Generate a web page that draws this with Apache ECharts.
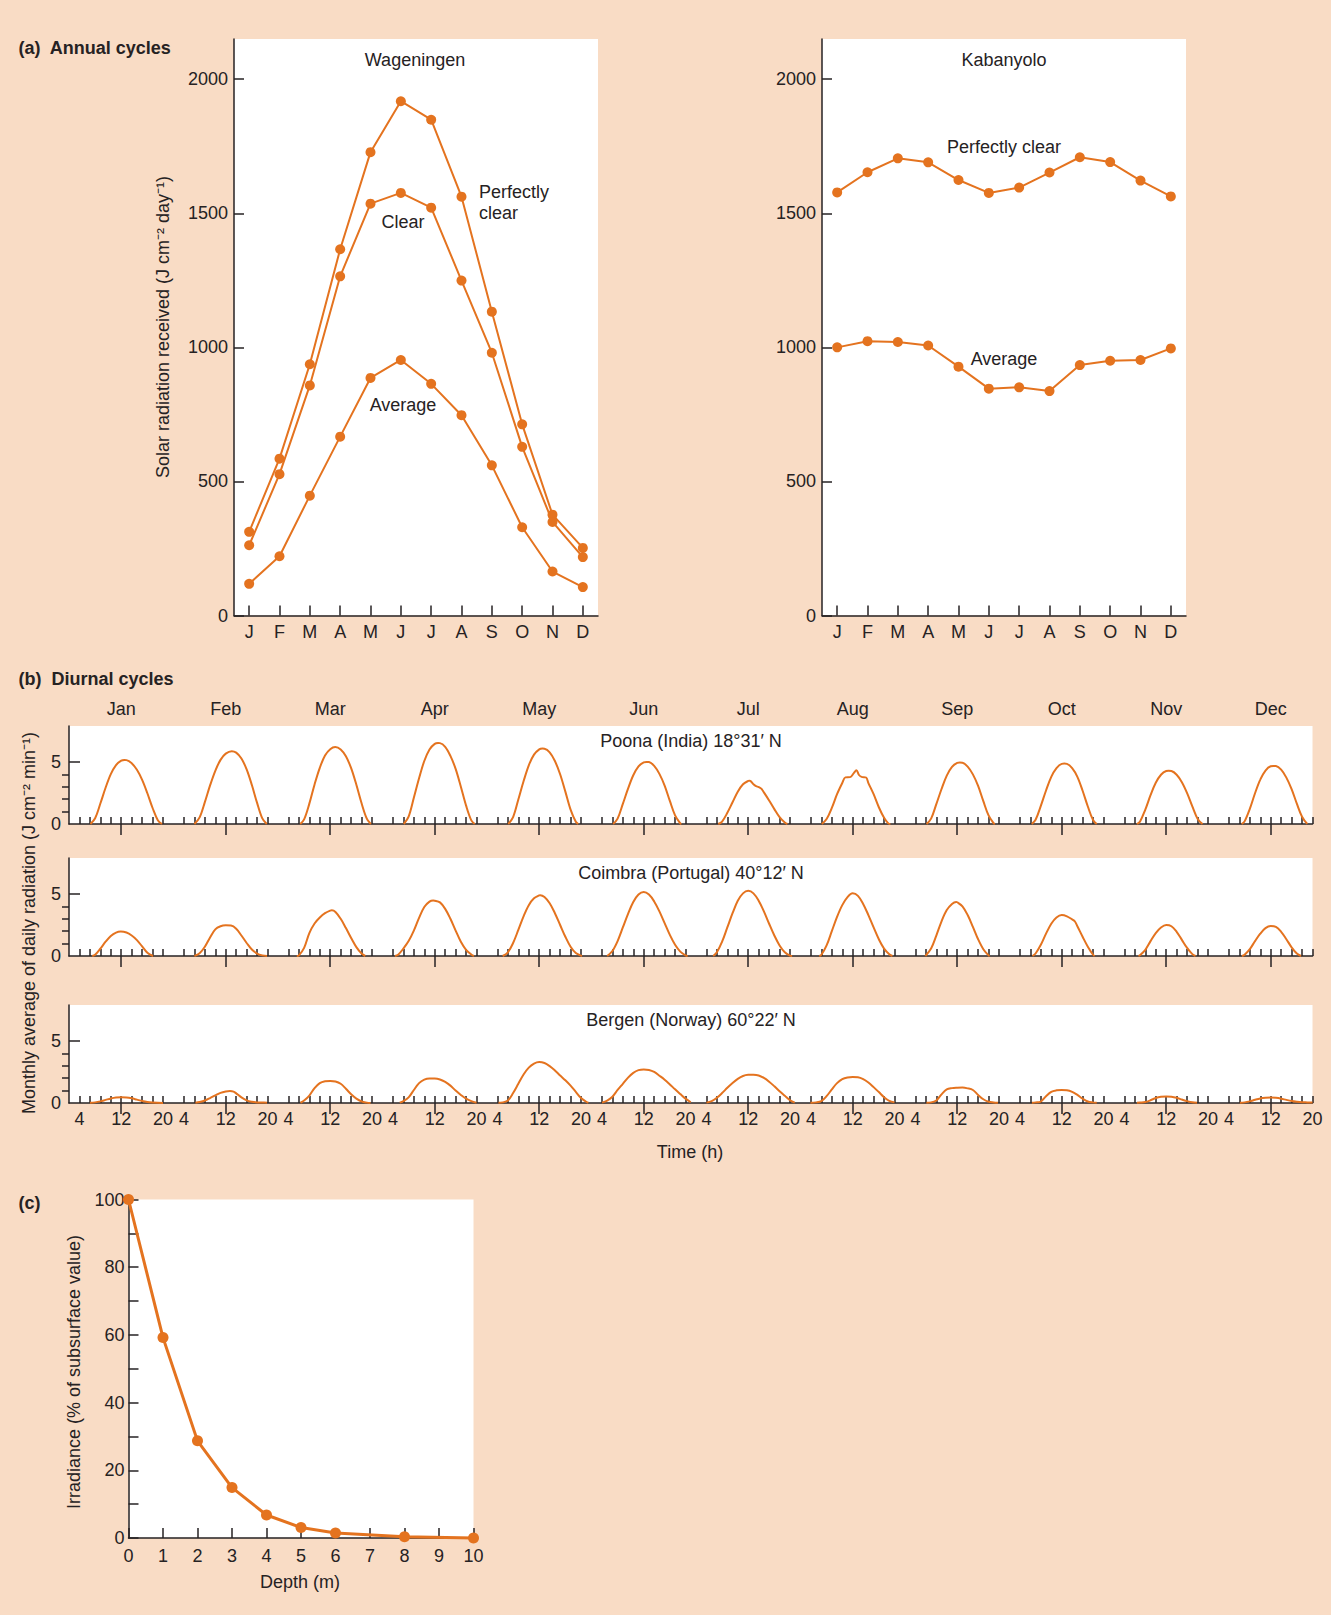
<!DOCTYPE html>
<html><head><meta charset="utf-8">
<script src="https://cdn.jsdelivr.net/npm/echarts@6.0.0/dist/echarts.min.js"></script>
<style>html,body{margin:0;padding:0;background:#F9DCC5}#c{width:1331px;height:1615px}</style>
</head><body><div id="c"></div><script>
// ---------- DATA ----------
const months = ['J','F','M','A','M','J','J','A','S','O','N','D'];
const annualYTicks = [0, 500, 1000, 1500, 2000];
const wagPerfectlyClear = [312, 585, 937, 1366, 1728, 1918, 1849, 1562, 1133, 713, 376, 252];
const wagClear          = [262, 527, 858, 1265, 1536, 1576, 1521, 1249, 980, 629, 349, 218];
const wagAverage        = [118, 221, 447, 667, 886, 953, 864, 747, 560, 329, 164, 106];
const kabPerfectlyClear = [1578, 1653, 1705, 1690, 1624, 1576, 1596, 1652, 1709, 1691, 1622, 1563];
const kabAverage        = [1000, 1023, 1020, 1007, 928, 846, 851, 837, 934, 950, 953, 996];

const monthNames = ['Jan','Feb','Mar','Apr','May','Jun','Jul','Aug','Sep','Oct','Nov','Dec'];
const hourTicks = [4, 6, 8, 10, 12, 14, 16, 18, 20];
const hourLabels = [4, 12, 20];
const diurnalYLabels = [0, 5];
const diurnalYMinor = [1, 2, 3, 4];

// [hour, J cm-2 min-1] for each month
const poona = [
  [[6.1,0],[7,0.46],[8,1.65],[9,2.92],[10,4.02],[11,4.75],[12,5.11],[12.6,5.16],[13,5.15],[14,4.9],[15,4.37],[16,3.56],[17,2.48],[18,1.29],[19,0.31],[19.8,0]],
  [[6,0],[7,0.53],[8,1.76],[9,3.11],[10,4.29],[11,5.17],[12,5.67],[13.15,5.87],[14,5.75],[15,5.28],[16,4.4],[17,3.14],[18,1.7],[19,0.45],[19.85,0]],
  [[6.26,0],[7,0.37],[8,1.64],[9,3.19],[10,4.53],[11,5.52],[12,6.03],[12.96,6.2],[14,6.01],[15,5.46],[16,4.5],[17,3.16],[18,1.67],[19,0.43],[19.8,0]],
  [[6.07,0],[7,0.6],[8,2.12],[9,3.69],[10,5.08],[11,6.01],[12,6.46],[12.64,6.53],[13,6.52],[14,6.22],[15,5.49],[16,4.44],[17,3.0],[18,1.48],[19,0.29],[19.65,0]],
  [[6.07,0],[7,0.56],[8,1.98],[9,3.44],[10,4.73],[11,5.59],[12,6.02],[12.64,6.08],[13,6.07],[14,5.78],[15,5.08],[16,4.01],[17,2.61],[18,1.16],[19,0.18],[19.46,0]],
  [[6.13,0],[7,0.43],[8,1.62],[9,2.85],[10,3.93],[11,4.65],[12,4.97],[12.5,5.0],[13,4.99],[14,4.68],[15,4.04],[16,3.1],[17,1.86],[18,0.7],[19,0.05],[19.2,0]],
  [[6.26,0],[7,0.2],[8,0.9],[9,1.75],[10,2.6],[11,3.2],[12,3.47],[12.3,3.49],[13,3.2],[13.5,3.05],[14,2.98],[14.5,2.85],[15,2.55],[16,1.9],[17,1.2],[18,0.55],[19,0.12],[19.5,0]],
  [[6.07,0],[7,0.4],[8,1.3],[9,2.4],[10,3.3],[10.6,3.76],[11.5,3.78],[12.2,4.1],[12.7,4.34],[13.2,3.95],[13.7,3.8],[14.55,3.75],[15,3.3],[16,2.4],[17,1.35],[18,0.5],[18.8,0.05],[19.2,0]],
  [[6.13,0],[7,0.43],[8,1.6],[9,2.82],[10,3.9],[11,4.6],[12,4.92],[12.5,4.95],[13,4.94],[14,4.63],[15,4.0],[16,3.07],[17,1.84],[18,0.69],[19,0.05],[19.2,0]],
  [[6.26,0],[7,0.34],[8,1.46],[9,2.7],[10,3.8],[11,4.5],[12,4.85],[12.5,4.87],[13,4.85],[14,4.5],[15,3.8],[16,2.68],[17,1.41],[18,0.32],[18.7,0]],
  [[6.4,0],[7,0.21],[8,1.16],[9,2.32],[10,3.32],[11,3.97],[12,4.27],[12.45,4.29],[13,4.27],[14,3.97],[15,3.37],[16,2.49],[17,1.42],[18,0.43],[18.95,0]],
  [[6.45,0],[7,0.21],[8,1.22],[9,2.48],[10,3.58],[11,4.31],[12,4.66],[12.5,4.68],[13,4.67],[14,4.38],[15,3.74],[16,2.81],[17,1.64],[18,0.58],[19,0.01],[19.1,0]]
];
const coimbra = [
  [[6.45,0],[7,0.1],[8,0.59],[9,1.15],[10,1.62],[11,1.89],[11.9,1.97],[13,1.89],[14,1.65],[15,1.28],[16,0.77],[17,0.26],[18.1,0]],
  [[6,0],[7,0.22],[8,0.75],[9,1.5],[10,2.15],[11,2.4],[12,2.47],[13,2.45],[14,2.2],[15,1.65],[16,1.05],[17,0.52],[18,0.2],[19,0.05],[19.9,0]],
  [[5.6,0],[6,0.05],[7,0.65],[8,1.85],[9,2.62],[10,3.1],[11,3.45],[12,3.66],[12.3,3.68],[13,3.55],[14,3.0],[15,2.25],[16,1.45],[17,0.72],[18,0.2],[18.7,0]],
  [[4.4,0],[5,0.1],[6,0.6],[7,1.2],[8,2.05],[9,3.08],[10,3.95],[11,4.38],[11.7,4.47],[12,4.46],[13,4.32],[14,3.8],[15,3.0],[16,2.05],[17,1.15],[18,0.5],[19,0.12],[19.5,0]],
  [[5,0],[6,0.3],[7,1.05],[8,2.1],[9,3.2],[10,4.1],[11,4.65],[12,4.88],[12.2,4.9],[13,4.75],[14,4.25],[15,3.45],[16,2.5],[17,1.55],[18,0.75],[19,0.25],[20,0.03],[20.2,0]],
  [[5,0],[6,0.4],[7,1.2],[8,2.3],[9,3.4],[10,4.35],[11,4.95],[12,5.15],[13,4.95],[14,4.4],[15,3.6],[16,2.65],[17,1.7],[18,0.9],[19,0.35],[20,0.05],[20.4,0]],
  [[5.3,0],[6,0.3],[7,1.15],[8,2.3],[9,3.45],[10,4.45],[11,5.05],[12,5.25],[13,5.05],[14,4.45],[15,3.6],[16,2.6],[17,1.65],[18,0.85],[19,0.3],[20,0.03],[20.4,0]],
  [[5.6,0],[6,0.1],[7,0.85],[8,2.0],[9,3.15],[10,4.1],[11,4.75],[12,5.05],[13,4.85],[14,4.2],[15,3.3],[16,2.3],[17,1.35],[18,0.6],[19,0.15],[19.6,0]],
  [[5.9,0],[7,0.6],[8,1.65],[9,2.8],[10,3.7],[11,4.2],[11.8,4.35],[12,4.33],[13,4.0],[14,3.3],[15,2.35],[16,1.35],[17,0.55],[18,0.05],[18.2,0]],
  [[6.4,0],[7,0.2],[8,0.9],[9,1.8],[10,2.6],[11,3.1],[12,3.3],[13,3.2],[14,2.95],[14.5,2.8],[15,2.4],[16,1.55],[17,0.75],[18,0.1],[18.3,0]],
  [[6.7,0],[7,0.07],[8,0.5],[9,1.2],[10,1.85],[11,2.3],[12,2.5],[13,2.4],[14,1.95],[15,1.3],[16,0.65],[17,0.15],[17.6,0]],
  [[6.5,0],[7,0.1],[8,0.55],[9,1.2],[10,1.8],[11,2.25],[12,2.42],[13,2.35],[14,1.95],[15,1.35],[16,0.7],[17,0.2],[17.8,0]]
];
const bergen = [
  [[6,0.02],[7,0.05],[8,0.13],[9,0.25],[10,0.37],[11,0.45],[12,0.47],[13,0.45],[14,0.38],[15,0.27],[16,0.16],[17,0.08],[18,0.04],[19,0.02],[20,0.01]],
  [[6.2,0.02],[7,0.08],[8,0.2],[9,0.4],[10,0.62],[11,0.82],[12,0.93],[12.8,0.97],[13.5,0.92],[14,0.78],[15,0.45],[16,0.21],[17,0.1],[18,0.05],[19,0.04],[19.9,0.03]],
  [[6.3,0.02],[7,0.2],[8,0.6],[9,1.2],[10,1.6],[11,1.75],[12,1.78],[13,1.74],[14,1.55],[15,1.15],[16,0.7],[17,0.35],[18,0.12],[19,0.03],[19.7,0]],
  [[5.3,0.03],[6,0.15],[7,0.45],[8,1.05],[9,1.6],[10,1.88],[11,1.97],[12,1.97],[13,1.9],[14,1.7],[15,1.4],[16,1.0],[17,0.65],[18,0.35],[19,0.15],[20,0.02]],
  [[4.2,0.02],[5,0.05],[6,0.2],[7,0.8],[8,1.55],[9,2.3],[10,2.85],[11,3.18],[12,3.3],[13,3.22],[14,2.97],[15,2.62],[16,2.22],[17,1.83],[18,1.4],[19,0.9],[20,0.4],[21,0.1],[21.4,0.02]],
  [[4,0.03],[5,0.2],[6,0.5],[7,1.05],[8,1.55],[9,2.05],[10,2.43],[11,2.65],[12,2.71],[13,2.66],[14,2.5],[15,2.2],[16,1.88],[17,1.5],[18,1.1],[19,0.72],[20,0.35],[21,0.06]],
  [[4,0.03],[5,0.15],[6,0.42],[7,0.8],[8,1.23],[9,1.62],[10,1.95],[11,2.18],[12,2.27],[13,2.28],[14,2.22],[15,2.02],[16,1.72],[17,1.35],[18,0.95],[19,0.58],[20,0.22],[20.9,0.03]],
  [[3.9,0.03],[5,0.05],[6,0.15],[7,0.55],[8,1.1],[9,1.6],[10,1.92],[11,2.06],[12,2.1],[13,2.08],[14,1.93],[15,1.65],[16,1.28],[17,0.88],[18,0.47],[19,0.17],[20,0.05]],
  [[6.1,0.03],[7,0.05],[8,0.2],[9,0.7],[10,1.1],[11,1.2],[12,1.23],[13,1.24],[14,1.18],[15,1.05],[16,0.65],[17,0.3],[18,0.1],[19,0.05],[19.8,0.03]],
  [[6.3,0.03],[7,0.05],[8,0.12],[9,0.55],[10,0.9],[11,1.02],[12,1.05],[13,1.03],[14,0.9],[15,0.65],[16,0.35],[17,0.12],[18,0.05],[18.7,0.03]],
  [[6.4,0.03],[7,0.04],[8,0.08],[9,0.22],[10,0.4],[11,0.5],[12,0.53],[13,0.51],[14,0.42],[15,0.28],[16,0.15],[17,0.06],[17.9,0.03]],
  [[6.1,0.03],[7,0.05],[8,0.13],[9,0.26],[10,0.37],[11,0.43],[12,0.45],[13,0.42],[14,0.35],[15,0.25],[16,0.16],[17,0.1],[18,0.06],[19,0.05],[20,0.04]]
];
const stationTitles = ['Poona (India) 18°31′ N', 'Coimbra (Portugal) 40°12′ N', 'Bergen (Norway) 60°22′ N'];

const depth      = [0, 1, 2, 3, 4, 5, 6, 8, 10];
const irradiance = [100, 59.2, 28.7, 14.9, 6.8, 3.1, 1.5, 0.4, 0];

// ---------- STYLE ----------
const ORANGE = '#E4731F';
const INK = '#262223';
const FONT = '"Liberation Sans", Arial, Helvetica, sans-serif';
const lineSt = {color: INK, width: 1.5};
const lbl = {color: INK, fontSize: 18, fontFamily: FONT};
const plain = v => String(v);

const grids = [], xAxes = [], yAxes = [], series = [], graphics = [];

function txt(x, y, text, o) {
  o = o || {};
  return {type: 'text', x: x, y: y, rotation: o.rot || 0, z: 100, silent: true,
    style: {text: text, fill: INK, fontSize: o.size || 18, fontWeight: o.bold ? 'bold' : 'normal',
      fontFamily: FONT, align: o.align || 'center', verticalAlign: 'middle', lineHeight: o.lh || 21}};
}

// ---------- (a) annual ----------
const monthPos = months.map((_, i) => i + 1);
function annualPanel(left, list) {
  const g = grids.length;
  grids.push({left: left, top: 39, width: 364, height: 576.5, show: true, backgroundColor: '#fff', borderWidth: 0});
  const xi = xAxes.length;
  xAxes.push({type: 'value', gridIndex: g, min: 0.5, max: 12.5,
    axisLine: {show: true, onZero: false, lineStyle: lineSt},
    axisTick: {show: true, inside: true, length: 10, customValues: monthPos, lineStyle: lineSt},
    axisLabel: Object.assign({customValues: monthPos, margin: 7, formatter: v => months[Math.round(v) - 1]}, lbl),
    splitLine: {show: false}});
  const yi = yAxes.length;
  yAxes.push({type: 'value', gridIndex: g, min: 0, max: 2150,
    axisLine: {show: true, onZero: false, lineStyle: lineSt},
    axisTick: {show: true, inside: true, length: 10, customValues: annualYTicks, lineStyle: lineSt},
    axisLabel: Object.assign({customValues: annualYTicks, margin: 6, formatter: plain}, lbl),
    splitLine: {show: false}});
  list.forEach(vals => series.push({type: 'line', xAxisIndex: xi, yAxisIndex: yi,
    data: vals.map((v, i) => [monthPos[i], v]), symbol: 'circle', symbolSize: 10,
    itemStyle: {color: ORANGE}, lineStyle: {color: ORANGE, width: 2}, silent: true, clip: false}));
}
annualPanel(234, [wagPerfectlyClear, wagClear, wagAverage]);
annualPanel(822, [kabPerfectlyClear, kabAverage]);

// ---------- (b) diurnal ----------
const SEG = 20; // each month shows 2 h .. 22 h
const toX = (m, h) => m * SEG + h - 2;
const tickAll = [], tickNoon = [], labelPos = [], monthPosD = [];
monthNames.forEach((_, m) => {
  hourTicks.forEach(h => tickAll.push(toX(m, h)));
  tickNoon.push(toX(m, 12));
  hourLabels.forEach(h => labelPos.push(toX(m, h)));
  monthPosD.push(toX(m, 12));
});
const XMAX = toX(11, 20);
const dTops = [726, 858, 1005];
[poona, coimbra, bergen].forEach((st, si) => {
  const g = grids.length;
  grids.push({left: 69, top: dTops[si], width: 1243.5, height: 98, show: true, backgroundColor: '#fff', borderWidth: 0});
  const xi = xAxes.length;
  xAxes.push({type: 'value', gridIndex: g, min: 0, max: XMAX,
    axisLine: {show: true, onZero: false, lineStyle: lineSt},
    axisTick: {show: true, inside: true, length: 7, customValues: tickAll, lineStyle: lineSt},
    axisLabel: Object.assign({show: si === 2, customValues: labelPos, margin: 7,
      formatter: v => String(Math.round(v) % SEG + 2)}, lbl),
    splitLine: {show: false}});
  xAxes.push({type: 'value', gridIndex: g, min: 0, max: XMAX,
    axisLine: {show: false},
    axisTick: {show: true, inside: true, length: 11, customValues: tickNoon, lineStyle: lineSt},
    axisLabel: {show: false}, splitLine: {show: false}});
  if (si === 0) {
    xAxes.push({type: 'value', gridIndex: g, min: 0, max: XMAX, position: 'top',
      axisLine: {show: false}, axisTick: {show: false},
      axisLabel: Object.assign({customValues: monthPosD, margin: 8,
        formatter: v => monthNames[Math.round((v - 10) / SEG)]}, lbl),
      splitLine: {show: false}});
  }
  const yi = yAxes.length;
  yAxes.push({type: 'value', gridIndex: g, min: 0, max: 7.9,
    axisLine: {show: true, onZero: false, lineStyle: lineSt},
    axisTick: {show: true, inside: true, length: 11, customValues: [5], lineStyle: lineSt},
    axisLabel: Object.assign({customValues: diurnalYLabels, margin: 8, formatter: plain}, lbl),
    splitLine: {show: false}});
  yAxes.push({type: 'value', gridIndex: g, min: 0, max: 7.9,
    axisLine: {show: false},
    axisTick: {show: true, inside: true, length: 7, customValues: diurnalYMinor, lineStyle: lineSt},
    axisLabel: {show: false}, splitLine: {show: false}});
  st.forEach((md, m) => series.push({type: 'line', xAxisIndex: xi, yAxisIndex: yi,
    data: md.map(p => [toX(m, p[0]), p[1]]), smooth: 0.35, symbol: 'none',
    lineStyle: {color: ORANGE, width: 2}, silent: true}));
  graphics.push(txt(691, dTops[si] + 15, stationTitles[si]));
});

// ---------- (c) depth ----------
{
  const g = grids.length;
  grids.push({left: 128.5, top: 1199.5, width: 345, height: 338.5, show: true, backgroundColor: '#fff', borderWidth: 0});
  const xi = xAxes.length;
  xAxes.push({type: 'value', gridIndex: g, min: 0, max: 10, interval: 1,
    axisLine: {show: true, onZero: false, lineStyle: lineSt},
    axisTick: {show: true, inside: true, length: 10, lineStyle: lineSt},
    axisLabel: Object.assign({margin: 9, formatter: plain}, lbl), splitLine: {show: false}});
  const yi = yAxes.length;
  yAxes.push({type: 'value', gridIndex: g, min: 0, max: 100, interval: 10,
    axisLine: {show: true, onZero: false, lineStyle: lineSt},
    axisTick: {show: true, inside: true, length: 10, lineStyle: lineSt},
    axisLabel: Object.assign({margin: 4, formatter: v => (v % 20 === 0 ? String(v) : '')}, lbl),
    splitLine: {show: false}});
  series.push({type: 'line', xAxisIndex: xi, yAxisIndex: yi,
    data: depth.map((d, i) => [d, irradiance[i]]), symbol: 'circle', symbolSize: 11,
    itemStyle: {color: ORANGE}, lineStyle: {color: ORANGE, width: 3}, silent: true, clip: false});
}

// ---------- texts ----------
graphics.push(
  txt(18.5, 47.5, '(a)  Annual cycles', {bold: true, align: 'left'}),
  txt(415, 60, 'Wageningen'),
  txt(479, 202.5, 'Perfectly\nclear', {align: 'left', lh: 21.5}),
  txt(403, 221.5, 'Clear'),
  txt(403, 405, 'Average'),
  txt(1004, 60, 'Kabanyolo'),
  txt(1004, 147, 'Perfectly clear'),
  txt(1004, 358.5, 'Average'),
  txt(163, 327, 'Solar radiation received (J cm⁻² day⁻¹)', {rot: Math.PI / 2}),
  txt(18.5, 679, '(b)  Diurnal cycles', {bold: true, align: 'left'}),
  txt(29, 923, 'Monthly average of daily radiation (J cm⁻² min⁻¹)', {rot: Math.PI / 2}),
  txt(690, 1152, 'Time (h)'),
  txt(18.5, 1202.5, '(c)', {bold: true, align: 'left'}),
  txt(74, 1372, 'Irradiance (% of subsurface value)', {rot: Math.PI / 2}),
  txt(300, 1581.5, 'Depth (m)')
);

const chart = echarts.init(document.getElementById('c'), null, {renderer: 'svg', width: 1331, height: 1615});
chart.setOption({
  animation: false,
  backgroundColor: '#F9DCC5',
  grid: grids, xAxis: xAxes, yAxis: yAxes, series: series, graphic: graphics
});
</script></body></html>
